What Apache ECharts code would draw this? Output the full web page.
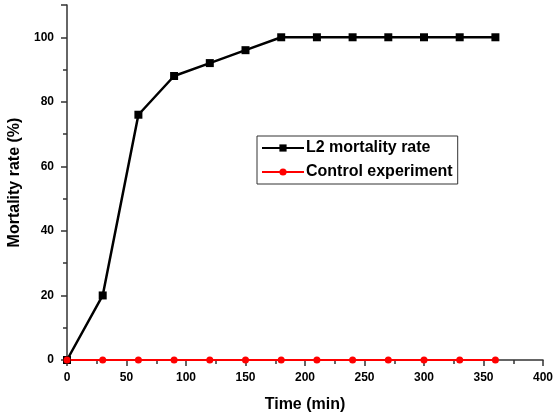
<!DOCTYPE html>
<html>
<head>
<meta charset="utf-8">
<script src="https://cdn.jsdelivr.net/npm/echarts@6/dist/echarts.min.js"></script>
<style>
  html, body { margin: 0; padding: 0; background: #fff; }
  #chart { width: 555px; height: 419px; }
</style>
</head>
<body>
<div id="chart"></div>
<script>
const times = [0, 30, 60, 90, 120, 150, 180, 210, 240, 270, 300, 330, 360]
const l2Mortality = [0, 20, 76, 88, 92, 96, 100, 100, 100, 100, 100, 100, 100]
const control = [0, 0, 0, 0, 0, 0, 0, 0, 0, 0, 0, 0, 0]

const font = 'Arial, "Liberation Sans", sans-serif'
const chart = echarts.init(document.getElementById('chart'))

const pairs = (ys) => times.map((t, i) => [t, ys[i]])

chart.setOption({
  animation: false,
  grid: { left: 67, right: 12, top: 5, bottom: 59, outerBoundsMode: 'none', containLabel: false },
  legend: {
    left: 257,
    top: 136,
    orient: 'vertical',
    itemWidth: 42,
    itemHeight: 9,
    itemGap: 8,
    padding: [4, 5, 4, 4],
    borderColor: '#333',
    borderWidth: 1,
    textStyle: { fontFamily: font, fontSize: 16, fontWeight: 'bold', color: '#000', padding: [0, 0, 0, -3] },
    data: ['L2 mortality rate', 'Control experiment']
  },
  xAxis: {
    type: 'value',
    min: 0,
    max: 400,
    interval: 50,
    name: 'Time (min)',
    nameLocation: 'middle',
    nameGap: 37,
    nameTextStyle: { fontFamily: font, fontSize: 16, fontWeight: 'bold', color: '#000' },
    axisLine: { lineStyle: { color: '#333', width: 1.5 } },
    axisTick: { inside: false, length: 6, lineStyle: { color: '#333', width: 1.5 } },
    minorTick: { show: true, splitNumber: 2, length: 4, lineStyle: { color: '#333', width: 1.5 } },
    axisLabel: { fontFamily: font, fontSize: 12, fontWeight: 'bold', color: '#000', margin: 12 },
    splitLine: { show: false }
  },
  yAxis: {
    type: 'value',
    min: 0,
    max: 110,
    interval: 20,
    name: 'Mortality rate (%)',
    nameLocation: 'middle',
    nameGap: 42,
    nameTextStyle: { fontFamily: font, fontSize: 16, fontWeight: 'bold', color: '#000' },
    axisLine: { show: true, lineStyle: { color: '#333', width: 1.5 } },
    axisTick: { show: true, inside: false, length: 6, lineStyle: { color: '#333', width: 1.5 } },
    minorTick: { show: true, splitNumber: 2, length: 4, lineStyle: { color: '#333', width: 1.5 } },
    axisLabel: {
      fontFamily: font, fontSize: 12, fontWeight: 'bold', color: '#000', margin: 13,
      formatter: (v) => (v % 20 === 0 && v <= 100 ? v : '')
    },
    splitLine: { show: false }
  },
  series: [
    {
      name: 'L2 mortality rate',
      type: 'line',
      data: pairs(l2Mortality),
      symbol: 'rect',
      symbolSize: 8,
      itemStyle: { color: '#000' },
      lineStyle: { color: '#000', width: 2.5 }
    },
    {
      name: 'Control experiment',
      type: 'line',
      data: pairs(control),
      symbol: 'circle',
      symbolSize: 7,
      itemStyle: { color: '#ff0000' },
      lineStyle: { color: '#ff0000', width: 2 }
    }
  ]
})
</script>
</body>
</html>
